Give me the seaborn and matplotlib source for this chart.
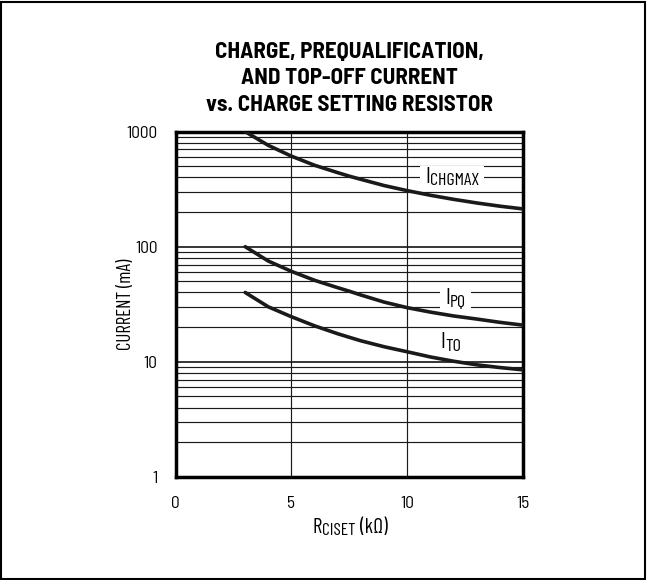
import numpy as np
import pandas as pd
import matplotlib
matplotlib.use('Agg')
import matplotlib.pyplot as plt
import matplotlib.transforms as mtransforms
import seaborn as sns
from matplotlib.patches import Rectangle

# values
r_ciset = [3, 4, 5, 6, 7, 7.5, 8, 9, 10, 11, 12, 13, 14, 15]
i_chgmax = [1000, 760, 612, 510, 440, 410, 385, 340, 307, 280, 258, 240, 225, 213]
i_pq = [100, 75, 61, 51, 44, 41, 38, 33, 29.5, 27, 25, 23.5, 22, 20.8]
i_to = [40, 30, 24.6, 20.5, 17.5, 16.3, 15.2, 13.5, 12.2, 11, 10.1, 9.4, 8.9, 8.5]

x_ticks = [0, 5, 10, 15]
y_ticks = [1, 10, 100, 1000]

sns.set_theme(style='white')
plt.rcParams['font.family'] = ['Barlow Semi Condensed', 'Barlow Condensed', 'DejaVu Sans']
narrow = ['Barlow Condensed', 'DejaVu Sans']

df = pd.DataFrame({'R': r_ciset * 3,
                   'I': i_chgmax + i_pq + i_to,
                   'curve': ['chgmax'] * len(r_ciset) + ['pq'] * len(r_ciset) + ['to'] * len(r_ciset)})

fig = plt.figure(figsize=(6.47, 5.8), dpi=100)
ax = fig.add_axes([0.2716, 0.178, 0.5368, 0.595])
renderer = fig.canvas.get_renderer()


def sub_text(target, x, y, parts, transform, center=False, white_box=False):
    # main text + subscript pieces written one after another
    widths = []
    for s, size, dy, gap in parts:
        t = fig.text(0, 0, s, fontsize=size, family=narrow)
        widths.append(t.get_window_extent(renderer).width + gap)
        t.remove()
    pos = -sum(widths) / 2 if center else 0
    texts = []
    for (s, size, dy, gap), w in zip(parts, widths):
        tr = mtransforms.offset_copy(transform, fig=fig, x=(pos + gap) * 72 / fig.dpi, y=dy, units='points')
        texts.append(target.text(x, y, s, transform=tr, fontsize=size, family=narrow, ha='left',
                                 va='baseline', color='black', zorder=2.5))
        pos += w
    if white_box:
        bb = mtransforms.Bbox.union([t.get_window_extent(renderer) for t in texts])
        target.add_patch(Rectangle((bb.x0 - 5, bb.y0 - 1), bb.width + 10, bb.height + 2,
                                   transform=mtransforms.IdentityTransform(),
                                   facecolor='white', edgecolor='none', zorder=1.5))


# grid lines
for dec in [1, 10, 100]:
    for m in range(2, 10):
        ax.axhline(dec * m, color='#1a1a1a', lw=0.85, zorder=1)
for v in [10, 100]:
    ax.axhline(v, color='black', lw=1.1, zorder=1)
for v in [5, 10]:
    ax.axvline(v, color='#1a1a1a', lw=0.85, zorder=1)

sns.lineplot(data=df, x='R', y='I', units='curve', estimator=None,
             color='#1a1a1a', lw=2.6, ax=ax, zorder=3)

ax.set_yscale('log')
ax.set_xlim(0, 15)
ax.set_ylim(1, 1000)
ax.set_xticks(x_ticks)
ax.set_xticklabels([str(t) for t in x_ticks])
ax.set_yticks(y_ticks)
ax.set_yticklabels([str(t) for t in y_ticks])
ax.yaxis.set_minor_locator(matplotlib.ticker.NullLocator())
ax.tick_params(axis='y', length=0, labelsize=12.5, pad=13, colors='black')
ax.tick_params(axis='x', length=0, labelsize=12.5, pad=14, colors='black')
for s in ax.spines.values():
    s.set_linewidth(2.5)
    s.set_color('black')

sub_text(ax, 10.78, 358, [('I', 16, 0, 0), ('CHGMAX', 13, -1.7, 0)], ax.transData, white_box=True)
sub_text(ax, 11.63, 31.6, [('I', 16, 0, 0), ('PQ', 13, -1.7, 0)], ax.transData, white_box=True)
sub_text(ax, 11.45, 13.1, [('I', 16, 0, 0), ('TO', 13, -1.7, 0)], ax.transData)

ax.set_xlabel('')
sub_text(fig, 350 / 647, 1 - 533 / 580,
         [('R', 15, 0, 0), ('CISET', 12.5, -1.5, 0), ('(kΩ)', 15, 0, 4)],
         fig.transFigure, center=True)
ax.set_ylabel('CURRENT (mA)', fontsize=13.5, color='black', family=narrow)
ax.yaxis.set_label_coords(-0.118, 0.5)

title_lines = ['CHARGE, PREQUALIFICATION,', 'AND TOP-OFF CURRENT', 'vs. CHARGE SETTING RESISTOR']
for txt, yb in zip(title_lines, [58, 84, 111]):
    fig.text(349.5 / 647, 1 - yb / 580, txt, ha='center', va='baseline',
             fontsize=16.5, fontweight='bold', color='black')

fig.patches.append(Rectangle((0.002, 0.002), 0.995, 0.995, transform=fig.transFigure,
                             fill=False, edgecolor='black', lw=1.5))

fig.savefig('out.png', dpi=100)
